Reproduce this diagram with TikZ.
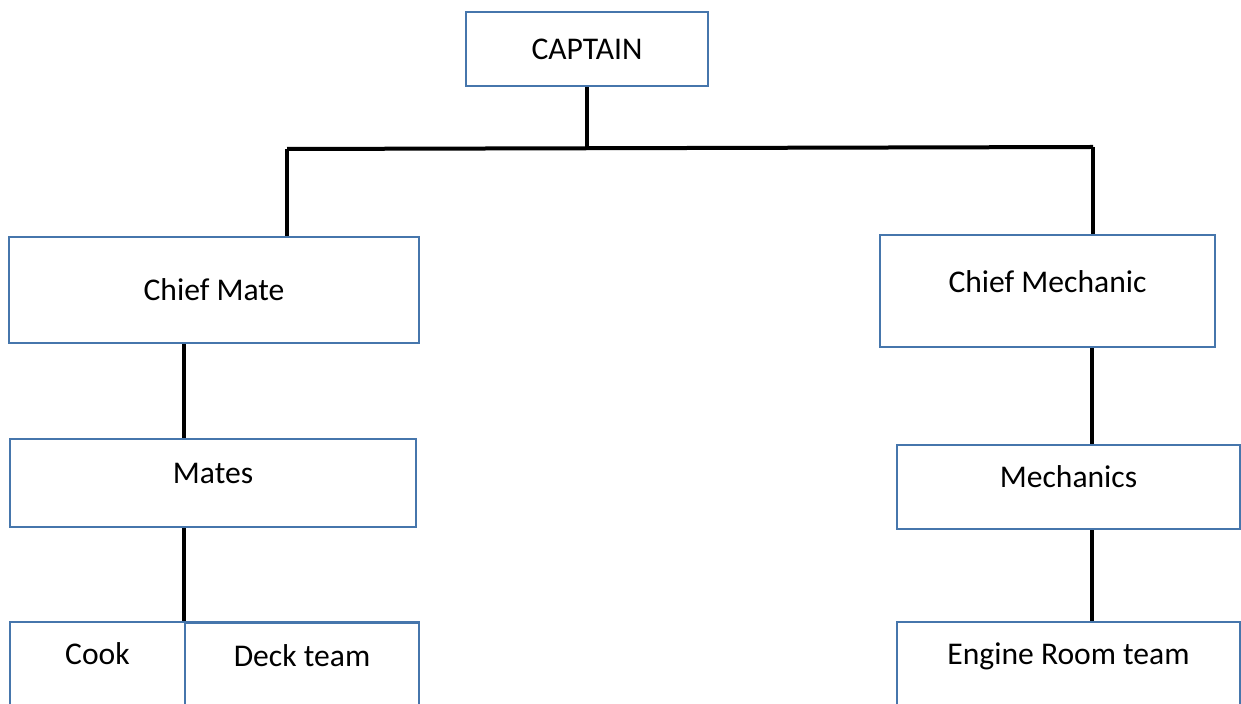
\documentclass[tikz,border=0pt]{standalone}
\usepackage{fontspec}
\setmainfont{Carlito}
\usetikzlibrary{positioning}
\definecolor{boxblue}{RGB}{70,118,172}
\tikzset{
    post/.style={draw=boxblue,line width=1.2pt,rectangle,inner sep=0pt,
        font=\fontsize{15.8}{19}\selectfont},
    link/.style={line width=2pt,black}
}

\begin{document}
\begin{tikzpicture}[x=0.5pt,y=-0.5pt]
                \useasboundingbox (0,0) rectangle (1241,704);
                \clip (0,0) rectangle (1241,704);
                % boxes
                \node[post,minimum width=121pt,minimum height=37pt] (captain) at (587,49) {CAPTAIN};
                \node[post,minimum width=205pt,minimum height=53pt] (chiefmate) at (214,290) {Chief Mate};
                \node[post,minimum width=167.5pt,minimum height=56pt,
                    label={[yshift=4.5,font=\fontsize{15.8}{19}\selectfont]center:Chief Mechanic}] (chiefmech) at (1047.5,291) {};
                \node[post,minimum width=203pt,minimum height=44pt,
                    label={[yshift=5,font=\fontsize{15.8}{19}\selectfont]center:Mates}] (mates) at (213,483) {};
                \node[post,minimum width=171.5pt,minimum height=42pt,
                    label={[yshift=5,font=\fontsize{15.8}{19}\selectfont]center:Mechanics}] (mechanics) at (1068.5,487) {};
                \node[post,minimum width=87.5pt,minimum height=69pt,
                    label={[yshift=18.5,font=\fontsize{15.8}{19}\selectfont]center:Cook}] (cook) at (97.5,691) {};
                \node[post,minimum width=117pt,minimum height=69pt,
                    label={[yshift=18,font=\fontsize{15.8}{19}\selectfont]center:Deck team}] (deck) at (302,691.5) {};
                \node[post,minimum width=171.5pt,minimum height=69pt,
                    label={[yshift=17.5,font=\fontsize{15.8}{19}\selectfont]center:Engine Room team}] (engine) at (1068.5,691) {};
                % connectors
                \coordinate (barL) at (287,149);
                \coordinate (barR) at (1093,147);
                \coordinate (deckx) at (184,0);
                \coordinate (engx) at (1092,0);
                \draw[link] (captain.south) -- (captain.south |- barL);
                \draw[link] (barL) -- (barR);
                \draw[link] (barL) -- (barL |- chiefmate.north);
                \draw[link] (barR) -- (barR |- chiefmech.north);
                \draw[link] (deckx |- chiefmate.south) -- (deckx |- mates.north);
                \draw[link] (deckx |- mates.south) -- (deckx |- cook.north);
                \draw[link] (engx |- chiefmech.south) -- (engx |- mechanics.north);
                \draw[link] (engx |- mechanics.south) -- (engx |- engine.north);
            \end{tikzpicture}
\end{document}
